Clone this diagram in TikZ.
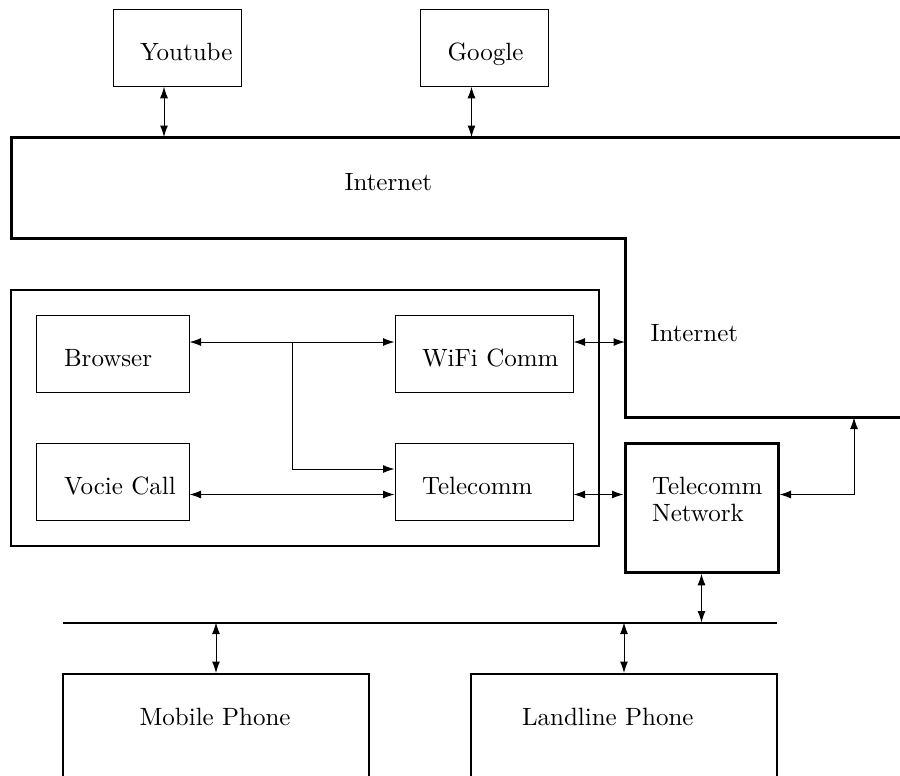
\documentclass[tikz,border=0pt]{standalone}
\usepackage{tikz}
\usetikzlibrary{fit,arrows.meta}
\hyphenpenalty=10000

\tikzset{
  module/.style={draw, thin, align=left, inner xsep=10.8pt, inner ysep=0pt,
                 text height=20.4pt, text depth=10.2pt, text width=#1},
  phone/.style={draw, semithick, align=left, anchor=north, inner ysep=0pt,
                text height=20.8pt, text depth=60pt},
  link/.style={thin, <->},
}

\begin{document}
\begin{tikzpicture}[x=0.4pt, y=-0.4pt, >={Latex[length=4.6pt,width=3.2pt]}]
\useasboundingbox (0,0) rectangle (900,775);
\clip (0,0) rectangle (900,775);
% servers
\node[module=29.6pt] (yt) at (177,48) {Youtube};
\node[module=29.6pt] (google) at (484.5,48) {Google};
% internet
\coordinate (n1) at (11,137);
\coordinate (n2) at (920,137);
\coordinate (n3) at (920,417.5);
\coordinate (n4) at (625,417.5);
\coordinate (n5) at (625,238);
\coordinate (n6) at (11,238);
\draw[very thick] (n1) -- (n2) -- (n3) -- (n4) -- (n5) -- (n6) -- cycle;
\node[anchor=base west, inner sep=0pt] (inet) at (344,190) {Internet};
\node[anchor=base west, inner sep=0pt] (inet2) at (650,341.7) {Internet};
% device
\node[module=39.2pt] (browser) at (113,354) {Browser};
\node[module=39.2pt] (voice) at (113,482) {Vocie~Call};
\node[module=49.6pt] (wifi) at (484,354) {WiFi~Comm};
\node[module=49.6pt] (telecomm) at (484,482) {Telecomm};
\node[draw, thick, inner sep=10.2pt, fit=(browser)(telecomm)] (device) {};
\node[module=39.6pt, very thick, text depth=31pt] (tn) at (701.5,508)
     {Telecomm\\[-1.3pt]Network};
% phones
\coordinate (busL) at (63,622.5);
\coordinate (busR) at (777,622.5);
\draw[thick] (busL) -- (busR);
\node[phone, inner xsep=30.6pt, text width=61.2pt] (mobile) at (216,673) {Mobile~Phone};
\node[phone, inner xsep=20.4pt, text width=81.6pt] (landline) at (624,673) {Landline~Phone};
% links
\coordinate (ytport) at ([xshift=-5.2pt]yt.south);
\coordinate (gport) at ([xshift=-5.2pt]google.south);
\draw[link] (ytport) -- (ytport |- n1);
\draw[link] (gport) -- (gport |- n1);
\coordinate (bport) at ([yshift=4.8pt]browser.east);
\coordinate (split) at (292,342);
\draw[link] (bport) -- (bport -| wifi.west);
\draw[thin, ->] (split) |- ([yshift=5.2pt]telecomm.west);
\coordinate (vport) at ([yshift=-5pt]voice.east);
\draw[link] (vport) -- (vport -| telecomm.west);
\coordinate (wport) at ([yshift=4.8pt]wifi.east);
\draw[link] (wport) -- (wport -| n5);
\coordinate (tport) at ([yshift=-5pt]telecomm.east);
\draw[link] (tport) -- (tport -| tn.west);
\coordinate (up) at (854,417.5);
\draw[link] (tport -| tn.east) -| (up);
\draw[link] (tn.south) -- (tn.south |- busL);
\draw[link] (mobile.north |- busL) -- (mobile.north);
\draw[link] (landline.north |- busL) -- (landline.north);
\end{tikzpicture}
\end{document}
